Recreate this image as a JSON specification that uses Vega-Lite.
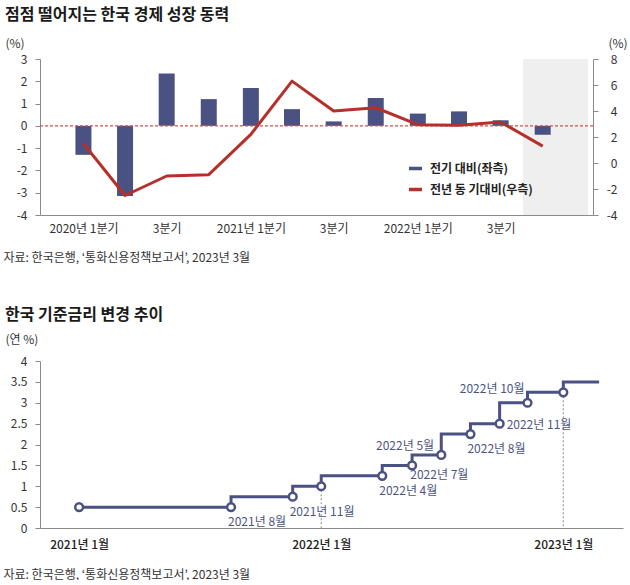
{
  "$schema": "https://vega.github.io/schema/vega-lite/v6.json",
  "background": "white",
  "padding": {"left": 3, "top": 7, "right": 0, "bottom": 0},
  "spacing": 44,
  "config": {
    "font": "Noto Sans CJK KR",
    "view": {"stroke": null},
    "axis": {
      "labelFont": "Noto Sans CJK KR", "labelFontSize": 12, "labelColor": "#333",
      "domainColor": "#8a8a8a", "tickColor": "#8a8a8a", "grid": false, "labelOverlap": false,
      "titleFont": "Noto Sans CJK KR", "titleFontWeight": "normal", "titleColor": "#333", "titleFontSize": 12
    },
    "title": {"font": "Noto Sans CJK KR", "fontSize": 16, "fontWeight": "bold", "color": "#1a1a1a", "anchor": "start", "frame": "group", "dx": -35}
  },
  "datasets": {
    "gdp": [
      {"date": "2020-01-01", "qoq": -1.3, "yoy": 1.5},
      {"date": "2020-04-01", "qoq": -3.15, "yoy": -2.5},
      {"date": "2020-07-01", "qoq": 2.35, "yoy": -1.0},
      {"date": "2020-10-01", "qoq": 1.2, "yoy": -0.9},
      {"date": "2021-01-01", "qoq": 1.7, "yoy": 2.2},
      {"date": "2021-04-01", "qoq": 0.75, "yoy": 6.3},
      {"date": "2021-07-01", "qoq": 0.2, "yoy": 4.0},
      {"date": "2021-10-01", "qoq": 1.25, "yoy": 4.25},
      {"date": "2022-01-01", "qoq": 0.55, "yoy": 2.95},
      {"date": "2022-04-01", "qoq": 0.65, "yoy": 2.9},
      {"date": "2022-07-01", "qoq": 0.25, "yoy": 3.15},
      {"date": "2022-10-01", "qoq": -0.4, "yoy": 1.3}
    ],
    "rate": [
      {"date": "2021-01-01", "rate": 0.5},
      {"date": "2021-08-18", "rate": 0.75},
      {"date": "2021-11-19", "rate": 1.0},
      {"date": "2022-01-01", "rate": 1.25},
      {"date": "2022-04-03", "rate": 1.5},
      {"date": "2022-05-18", "rate": 1.75},
      {"date": "2022-07-01", "rate": 2.25},
      {"date": "2022-08-14", "rate": 2.5},
      {"date": "2022-09-27", "rate": 3.0},
      {"date": "2022-11-08", "rate": 3.25},
      {"date": "2023-01-01", "rate": 3.5},
      {"date": "2023-02-24", "rate": 3.5}
    ],
    "changes": [
      {"date": "2021-01-01", "before": 0.5, "label": null},
      {"date": "2021-08-18", "before": 0.5, "label": "2021년 8월"},
      {"date": "2021-11-19", "before": 0.75, "label": "2021년 11월"},
      {"date": "2022-01-01", "before": 1.0, "label": null},
      {"date": "2022-04-03", "before": 1.25, "label": "2022년 4월"},
      {"date": "2022-05-18", "before": 1.5, "label": "2022년 5월"},
      {"date": "2022-07-01", "before": 1.75, "label": "2022년 7월"},
      {"date": "2022-08-14", "before": 2.25, "label": "2022년 8월"},
      {"date": "2022-09-27", "before": 2.5, "label": "2022년 11월"},
      {"date": "2022-11-08", "before": 3.0, "label": "2022년 10월"},
      {"date": "2023-01-01", "before": 3.25, "label": null}
    ],
    "refs": [
      {"date": "2022-01-01", "level": 1.0},
      {"date": "2023-01-01", "level": 3.25}
    ]
  },
  "vconcat": [
    {
      "title": {"text": "점점 떨어지는 한국 경제 성장 동력", "offset": 14},
      "width": 553,
      "height": 156,
      "data": {"name": "gdp"},
      "resolve": {"scale": {"y": "independent"}},
      "layer": [
        {
          "data": {"values": [{}]},
          "mark": {"type": "rect", "color": "#efefef"},
          "encoding": {
            "x": {"datum": {"year": 2022, "month": 8, "date": 19, "utc": true}, "type": "temporal", "scale": {"type": "utc"}},
            "x2": {"datum": {"year": 2023, "month": 1, "date": 8, "utc": true}}
          }
        },
        {
          "layer": [
            {
              "mark": {"type": "bar", "size": 16},
              "encoding": {
                "x": {
                  "field": "date", "type": "temporal",
                  "scale": {"type": "utc", "domain": [{"year": 2019, "month": 10, "date": 9, "utc": true}, {"year": 2023, "month": 1, "date": 8, "utc": true}]},
                  "axis": {
                    "values": [
                      {"year": 2020, "month": 1, "date": 1, "utc": true},
                      {"year": 2020, "month": 7, "date": 1, "utc": true},
                      {"year": 2021, "month": 1, "date": 1, "utc": true},
                      {"year": 2021, "month": 7, "date": 1, "utc": true},
                      {"year": 2022, "month": 1, "date": 1, "utc": true},
                      {"year": 2022, "month": 7, "date": 1, "utc": true}
                    ],
                    "tickCount": 20,
                    "labelExpr": "utcmonth(datum.value) == 0 ? utcyear(datum.value) + '년 1분기' : '3분기'",
                    "ticks": false, "labelPadding": 8,
                    "title": "자료: 한국은행, ‘통화신용정책보고서’, 2023년 3월",
                    "titleAnchor": "start", "titleAlign": "left", "titleBaseline": "middle",
                    "titleX": -37, "titleY": 42
                  }
                },
                "y": {
                  "field": "qoq", "type": "quantitative",
                  "scale": {"domain": [-4, 3], "nice": false},
                  "axis": {
                    "orient": "left", "values": [-4, -3, -2, -1, 0, 1, 2, 3], "tickCount": 20,
                    "labelExpr": "'' + datum.value", "tickSize": 5, "labelPadding": 8,
                    "title": "(%)", "titleAngle": 0, "titleAlign": "left", "titleBaseline": "middle",
                    "titleX": -35, "titleY": -16
                  }
                },
                "color": {
                  "datum": "전기 대비(좌측)",
                  "scale": {"domain": ["전기 대비(좌측)", "전년 동 기대비(우측)"], "range": ["#4a5283", "#b5302b"]},
                  "legend": {
                    "title": null, "orient": "none", "legendX": 367, "legendY": 101,
                    "symbolType": "stroke", "symbolSize": 169, "symbolStrokeWidth": 3.5,
                    "labelFont": "Noto Sans CJK KR", "labelFontSize": 12, "labelFontWeight": "bold", "labelColor": "#222",
                    "rowPadding": 5, "labelOffset": 6,
                    "encode": {"symbols": {"update": {"stroke": {"scale": "color", "field": "value"}, "fill": {"value": "transparent"}}}}
                  }
                }
              }
            },
            {
              "data": {"values": [{}]},
              "mark": {"type": "rule", "color": "#c9564f", "strokeDash": [3, 2], "strokeWidth": 1.2},
              "encoding": {"y": {"datum": 0, "type": "quantitative"}}
            }
          ]
        },
        {
          "mark": {"type": "line", "strokeWidth": 3, "strokeJoin": "round"},
          "encoding": {
            "x": {"field": "date", "type": "temporal", "scale": {"type": "utc"}},
            "y": {
              "field": "yoy", "type": "quantitative",
              "scale": {"domain": [-4, 8], "nice": false},
              "axis": {
                "orient": "right", "values": [-4, -2, 0, 2, 4, 6, 8], "tickCount": 20,
                "labelExpr": "'' + datum.value", "tickSize": 5, "labelPadding": 19, "labelAlign": "right",
                "title": "(%)", "titleAngle": 0, "titleAlign": "left", "titleBaseline": "middle",
                "titleX": 15, "titleY": -16
              }
            },
            "color": {"datum": "전년 동 기대비(우측)"}
          }
        }
      ]
    },
    {
      "title": {"text": "한국 기준금리 변경 추이", "offset": 10},
      "width": 583,
      "height": 167,
      "layer": [
        {
          "data": {"name": "rate"},
          "mark": {"type": "line", "interpolate": "step-after", "color": "#4a5283", "strokeWidth": 3},
          "encoding": {
            "x": {
              "field": "date", "type": "temporal",
              "scale": {"type": "utc", "domain": [{"year": 2020, "month": 11, "date": 3, "utc": true}, {"year": 2023, "month": 4, "date": 1, "utc": true}]},
              "axis": {
                "values": [
                  {"year": 2021, "month": 1, "date": 1, "utc": true},
                  {"year": 2022, "month": 1, "date": 1, "utc": true},
                  {"year": 2023, "month": 1, "date": 1, "utc": true}
                ],
                "tickCount": 20,
                "format": "%Y년 %-m월", "ticks": false, "labelPadding": 11, "labelFontWeight": 500, "labelColor": "#222",
                "title": "자료: 한국은행, ‘통화신용정책보고서’, 2023년 3월",
                "titleAnchor": "start", "titleAlign": "left", "titleBaseline": "middle",
                "titleX": -37, "titleY": 46
              }
            },
            "y": {
              "field": "rate", "type": "quantitative",
              "scale": {"domain": [0, 4], "nice": false},
              "axis": {
                "values": [0, 0.5, 1, 1.5, 2, 2.5, 3, 3.5, 4], "tickCount": 20, "format": "~g",
                "tickSize": 5, "labelPadding": 8,
                "title": "(연 %)", "titleAngle": 0, "titleAlign": "left", "titleBaseline": "middle",
                "titleX": -35, "titleY": -22
              }
            }
          }
        },
        {
          "data": {"name": "refs"},
          "mark": {"type": "rule", "color": "#8a8a8a", "strokeDash": [2, 2], "strokeWidth": 1},
          "encoding": {
            "x": {"field": "date", "type": "temporal", "scale": {"type": "utc"}},
            "y": {"field": "level", "type": "quantitative"},
            "y2": {"datum": 0}
          }
        },
        {
          "data": {"name": "changes"},
          "mark": {"type": "point", "filled": false, "fill": "white", "stroke": "#4a5283", "strokeWidth": 2.5, "size": 60, "opacity": 1},
          "encoding": {
            "x": {"field": "date", "type": "temporal", "scale": {"type": "utc"}},
            "y": {"field": "before", "type": "quantitative"}
          }
        },
        {
          "data": {"name": "changes"},
          "transform": [{"filter": {"field": "label", "oneOf": ["2021년 8월", "2021년 11월", "2022년 4월", "2022년 8월"]}}],
          "mark": {"type": "text", "align": "left", "baseline": "middle", "dx": -3, "dy": 15, "fontSize": 12, "color": "#4d5580"},
          "encoding": {
            "x": {"field": "date", "type": "temporal", "scale": {"type": "utc"}},
            "y": {"field": "before", "type": "quantitative"},
            "text": {"field": "label"}
          }
        },
        {
          "data": {"name": "changes"},
          "transform": [{"filter": {"field": "label", "equal": "2022년 5월"}}],
          "mark": {"type": "text", "align": "right", "baseline": "middle", "dx": 22, "dy": -19, "fontSize": 12, "color": "#4d5580"},
          "encoding": {
            "x": {"field": "date", "type": "temporal", "scale": {"type": "utc"}},
            "y": {"field": "before", "type": "quantitative"},
            "text": {"field": "label"}
          }
        },
        {
          "data": {"name": "changes"},
          "transform": [{"filter": {"field": "label", "equal": "2022년 7월"}}],
          "mark": {"type": "text", "align": "left", "baseline": "middle", "dx": -31, "dy": 20, "fontSize": 12, "color": "#4d5580"},
          "encoding": {
            "x": {"field": "date", "type": "temporal", "scale": {"type": "utc"}},
            "y": {"field": "before", "type": "quantitative"},
            "text": {"field": "label"}
          }
        },
        {
          "data": {"name": "changes"},
          "transform": [{"filter": {"field": "label", "equal": "2022년 11월"}}],
          "mark": {"type": "text", "align": "left", "baseline": "middle", "dx": 7, "dy": 1, "fontSize": 12, "color": "#4d5580"},
          "encoding": {
            "x": {"field": "date", "type": "temporal", "scale": {"type": "utc"}},
            "y": {"field": "before", "type": "quantitative"},
            "text": {"field": "label"}
          }
        },
        {
          "data": {"name": "changes"},
          "transform": [{"filter": {"field": "label", "equal": "2022년 10월"}}],
          "mark": {"type": "text", "align": "right", "baseline": "middle", "dx": -3, "dy": -14, "fontSize": 12, "color": "#4d5580"},
          "encoding": {
            "x": {"field": "date", "type": "temporal", "scale": {"type": "utc"}},
            "y": {"field": "before", "type": "quantitative"},
            "text": {"field": "label"}
          }
        }
      ]
    }
  ]
}
